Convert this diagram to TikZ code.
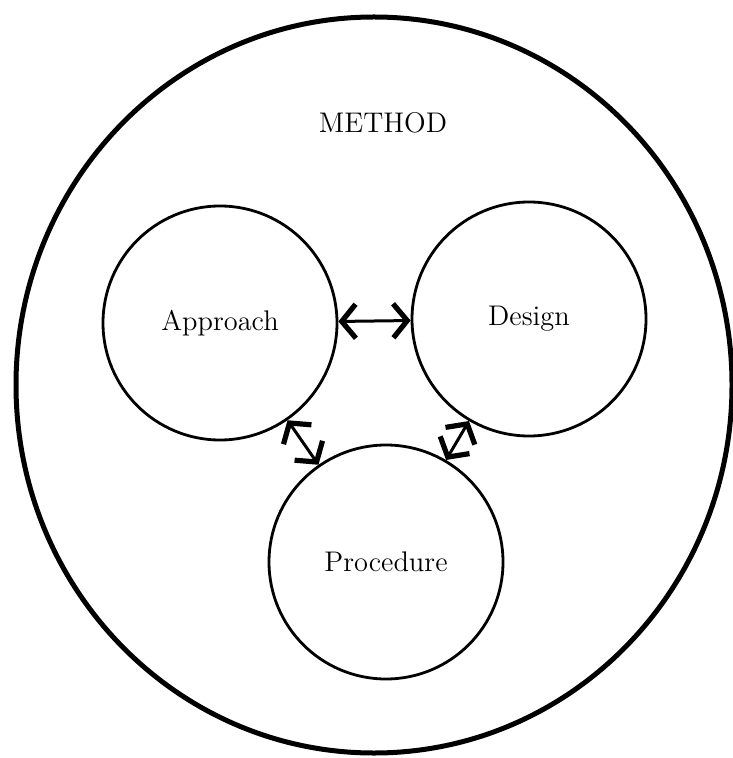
\documentclass[tikz,border=0pt]{standalone}
\usepackage{tikz}
\usetikzlibrary{arrows.meta,positioning}
\tikzset{
  part/.style={draw,circle,line width=1.4pt,minimum size=117pt,inner sep=0pt},
  barbtip/.tip={Straight Barb[length=7pt,width=17pt,line width=2.6pt]},
  link/.style={barbtip-barbtip,line width=1.5pt},
}

\begin{document}
\begin{tikzpicture}[x=0.5pt,y=-0.5pt,font=\fontsize{14.2}{17}\selectfont]
  \useasboundingbox (0,0) rectangle (732,758);
  % outer boundary
  \draw[line width=2.5pt] (374,385) ellipse [x radius=179pt,y radius=184pt];

  \path
  (383,123) node(method) {METHOD}
  (220,323) node[part](approach) {Approach}
  (529,319) node[part](design) {Design}
  (386,562) node[part](procedure) {Procedure}
  ;

  \draw[link] (approach) -- (design);
  \draw[link] (approach) -- (procedure);
  \draw[link] (design) -- (procedure);
\end{tikzpicture}
\end{document}
